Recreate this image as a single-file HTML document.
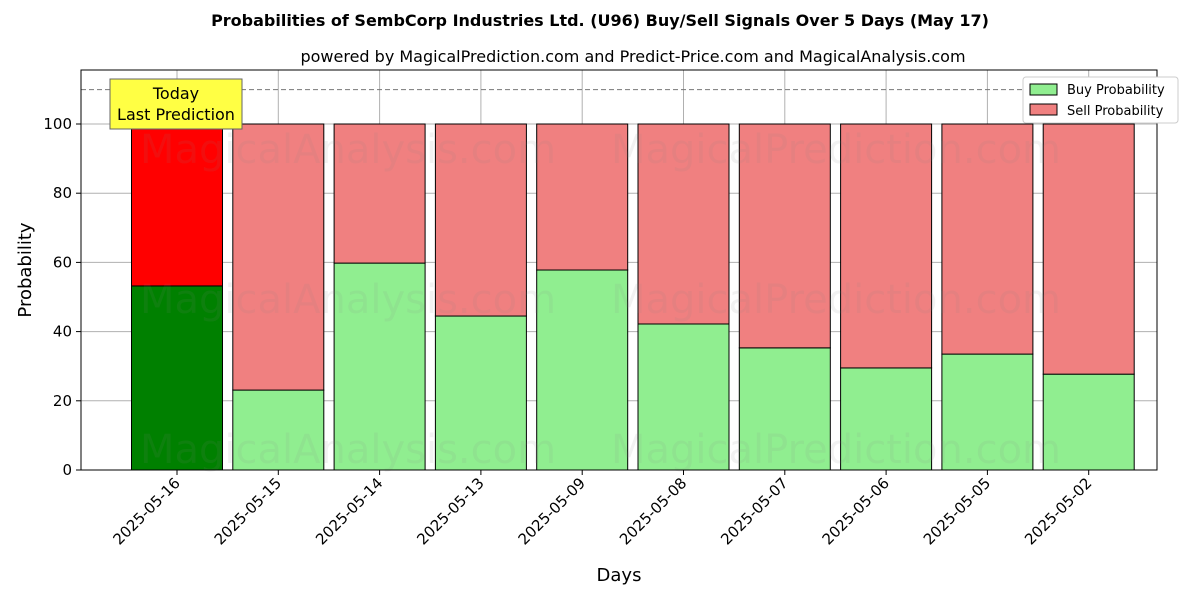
<!DOCTYPE html>
<html><head><meta charset="utf-8"><style>
body{margin:0;background:#fff;font-family:"DejaVu Sans","Liberation Sans",sans-serif}
</style></head><body>
<svg id="chart" width="1200" height="600" xmlns="http://www.w3.org/2000/svg" font-family="DejaVu Sans, Liberation Sans, sans-serif">
<text x="600" y="26" text-anchor="middle" font-size="16" font-weight="bold">Probabilities of SembCorp Industries Ltd. (U96) Buy/Sell Signals Over 5 Days (May 17)</text>
<text x="633" y="62" text-anchor="middle" font-size="16">powered by MagicalPrediction.com and Predict-Price.com and MagicalAnalysis.com</text>
<g id="grid"></g><g id="bars"></g><g id="wm" opacity="0.1" font-size="40" fill="#888">
<text x="348" y="163" text-anchor="middle">MagicalAnalysis.com</text>
<text x="836" y="163" text-anchor="middle">MagicalPrediction.com</text>
<text x="348" y="313" text-anchor="middle">MagicalAnalysis.com</text>
<text x="836" y="313" text-anchor="middle">MagicalPrediction.com</text>
<text x="348" y="463" text-anchor="middle">MagicalAnalysis.com</text>
<text x="836" y="463" text-anchor="middle">MagicalPrediction.com</text>
</g>
<line x1="81" x2="1157" y1="89.6" y2="89.6" stroke="#777" stroke-dasharray="5,3"/>
<rect x="81" y="70" width="1076" height="400" fill="none" stroke="#000"/>
<g id="axes" font-size="15"></g>
<text transform="translate(31,270) rotate(-90)" text-anchor="middle" font-size="18">Probability</text>
<text x="619" y="581" text-anchor="middle" font-size="18">Days</text>
<g>
<rect x="110" y="79" width="132" height="50" fill="#ffff44" stroke="#666"/>
<text x="176" y="99" text-anchor="middle" font-size="16">Today</text>
<text x="176" y="120" text-anchor="middle" font-size="16">Last Prediction</text></g>
<g font-size="13">
<rect x="1023" y="77" width="155" height="46" fill="#fff" stroke="#ccc" rx="3"/>
<rect x="1030" y="84" width="27" height="11" fill="#90ee90" stroke="#000"/><text x="1067" y="94">Buy Probability</text>
<rect x="1030" y="104" width="27" height="11" fill="#f08080" stroke="#000"/><text x="1067" y="115">Sell Probability</text></g>
</svg>
<script>
const categories=["2025-05-16","2025-05-15","2025-05-14","2025-05-13","2025-05-09","2025-05-08","2025-05-07","2025-05-06","2025-05-05","2025-05-02"];
const buyValues=[53.2,23.1,59.8,44.5,57.8,42.2,35.3,29.5,33.5,27.7];
const yTicks=[0,20,40,60,80,100];
const NS="http://www.w3.org/2000/svg";
const xs=i=>177+101.3*i, ys=v=>470-3.46*v, bw=91;
function mk(t,a,p){const e=document.createElementNS(NS,t);for(const k in a)e.setAttribute(k,a[k]);p.appendChild(e);return e;}
const grid=document.getElementById('grid'),bars=document.getElementById('bars'),axes=document.getElementById('axes');
yTicks.forEach(v=>{const y=ys(v);
const l=mk('line',{x1:81,x2:1157,y1:y,y2:y,stroke:'#b0b0b0'},grid);

mk('line',{x1:76,x2:81,y1:y,y2:y,stroke:'#000'},axes);
const t=mk('text',{x:72,y:y+5,'text-anchor':'end'},axes);t.textContent=v;
});
categories.forEach((c,i)=>{const x=xs(i);
const g=mk('line',{x1:x,x2:x,y1:70,y2:470,stroke:'#b0b0b0'},grid);

const b=buyValues[i];
const r1=mk('rect',{x:x-bw/2,y:ys(b),width:bw,height:ys(0)-ys(b),fill:i==0?'#008000':'#90ee90',stroke:'#000'},bars);

const r2=mk('rect',{x:x-bw/2,y:ys(100),width:bw,height:ys(b)-ys(100),fill:i==0?'#ff0000':'#f08080',stroke:'#000'},bars);

mk('line',{x1:x,x2:x,y1:470,y2:475,stroke:'#000'},axes);
const t=mk('text',{x:x+4,y:484,'text-anchor':'end',transform:`rotate(-45 ${x+4} 484)`},axes);t.textContent=c;
});
</script>
</body></html>
